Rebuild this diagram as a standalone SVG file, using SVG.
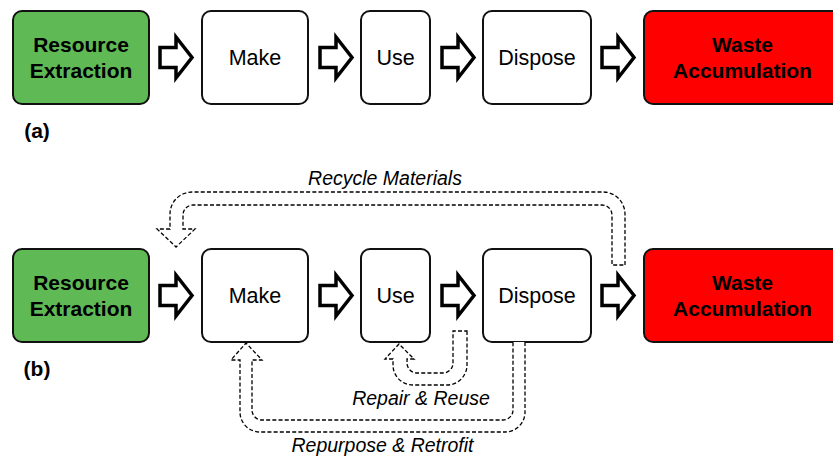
<svg xmlns="http://www.w3.org/2000/svg" xmlns:xlink="http://www.w3.org/1999/xlink" width="833" height="458" viewBox="0 0 833 458">
<style>
.box{fill:#fff;stroke:#111;stroke-width:2}
.green{fill:#5FB955}
.red{fill:#FF0000}
.lbl{font-family:"Liberation Sans",Arial,sans-serif;font-size:21.5px;fill:#000;text-anchor:middle}
.bold{font-weight:bold;font-size:21px}
.it{font-family:"Liberation Sans",Arial,sans-serif;font-style:italic;font-size:19.5px;fill:#000;text-anchor:middle}
.blk{fill:#fff;stroke:#000;stroke-width:3.5;stroke-miterlimit:10}
.dash{fill:#fff;stroke:#000;stroke-width:1.3;stroke-dasharray:4 2.2;stroke-linejoin:miter}
</style>
<defs>
<path id="blk" class="blk" d="M0,-10 H16 V-20.5 L32,0 L16,20.5 V10 H0 Z"/>
</defs>
<rect width="833" height="458" fill="#fff"/>

<g id="row-a">
<g id="a-extraction"><rect class="box green" x="13" y="11" width="136" height="93" rx="9"/><text class="lbl bold" x="81" y="52">Resource</text><text class="lbl bold" x="81" y="78">Extraction</text></g>
<g id="a-make"><rect class="box" x="202" y="11" width="106" height="93" rx="9"/><text class="lbl" x="255" y="65">Make</text></g>
<g id="a-use"><rect class="box" x="361" y="11" width="69" height="93" rx="9"/><text class="lbl" x="395.5" y="65">Use</text></g>
<g id="a-dispose"><rect class="box" x="483" y="11" width="108" height="93" rx="9"/><text class="lbl" x="537" y="65">Dispose</text></g>
<g id="a-waste"><rect class="box red" x="644" y="11" width="200" height="93" rx="9"/><text class="lbl bold" x="742.5" y="52">Waste</text><text class="lbl bold" x="742.5" y="78">Accumulation</text></g>
<text id="label-a" class="lbl bold" x="37" y="138">(a)</text>
</g>

<g id="row-b">
<g id="b-extraction"><rect class="box green" x="13" y="249" width="136" height="93" rx="9"/><text class="lbl bold" x="81" y="290">Resource</text><text class="lbl bold" x="81" y="316">Extraction</text></g>
<g id="b-make"><rect class="box" x="202" y="249" width="106" height="93" rx="9"/><text class="lbl" x="255" y="303">Make</text></g>
<g id="b-use"><rect class="box" x="361" y="249" width="69" height="93" rx="9"/><text class="lbl" x="395.5" y="303">Use</text></g>
<g id="b-dispose"><rect class="box" x="483" y="249" width="108" height="93" rx="9"/><text class="lbl" x="537" y="303">Dispose</text></g>
<g id="b-waste"><rect class="box red" x="644" y="249" width="200" height="93" rx="9"/><text class="lbl bold" x="742.5" y="290">Waste</text><text class="lbl bold" x="742.5" y="316">Accumulation</text></g>
<text id="label-b" class="lbl bold" x="37" y="376">(b)</text>
</g>

<g id="connectors">
<use xlink:href="#blk" transform="translate(160,57.5)"/>
<use xlink:href="#blk" transform="translate(320,57.5)"/>
<use xlink:href="#blk" transform="translate(442,57.5)"/>
<use xlink:href="#blk" transform="translate(602,57.5)"/>
<use xlink:href="#blk" transform="translate(160,295.5)"/>
<use xlink:href="#blk" transform="translate(320,295.5)"/>
<use xlink:href="#blk" transform="translate(442,295.5)"/>
<use xlink:href="#blk" transform="translate(602,295.5)"/>

<path id="recycle" class="dash" d="M625,265 V214 A22,22 0 0 0 603,192 H192 A22,22 0 0 0 170,214 V229 H157 L176,247 L195,229 H183 V215 A10,10 0 0 1 193,205 H602 A10,10 0 0 1 612,215 V265 Z"/>
<path id="repair" class="dash" d="M467,331 V365 A20,20 0 0 1 447,385 H413 A20,20 0 0 1 393,365 V359 H385 L399,344 L414,359 H407 V363 A10,10 0 0 0 417,373 H443 A10,10 0 0 0 453,363 V331 Z"/>
<path id="repurpose" class="dash" d="M525,342 V412 A20,20 0 0 1 505,432 H260 A20,20 0 0 1 240,412 V360 H231 L246,343 L262,360 H252 V410 A10,10 0 0 0 262,420 H503 A10,10 0 0 0 513,410 V342"/>

<text class="it" x="385" y="185">Recycle Materials</text>
<text class="it" x="421" y="405">Repair &amp; Reuse</text>
<text class="it" x="382.5" y="452">Repurpose &amp; Retrofit</text>
</g>
</svg>
